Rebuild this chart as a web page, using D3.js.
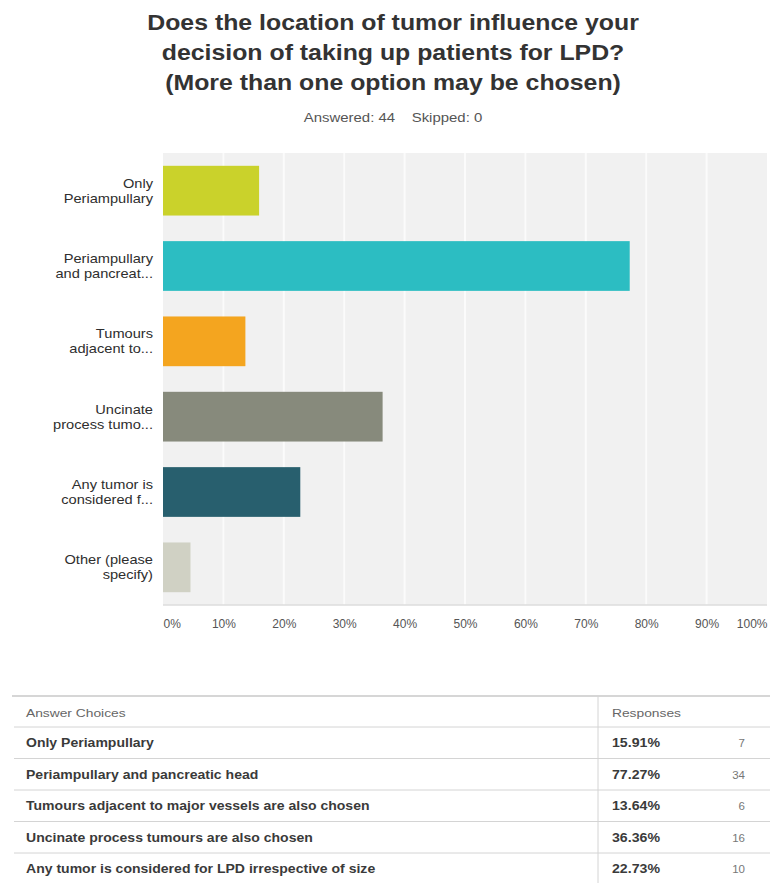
<!DOCTYPE html>
<html>
<head>
<meta charset="utf-8">
<script src="https://cdn.jsdelivr.net/npm/d3@7"></script>
<style>
  html, body { margin: 0; padding: 0; background: #fff; }
  svg { display: block; font-family: "Liberation Sans", Arial, Helvetica, sans-serif; }
</style>
</head>
<body>
<svg id="chart" width="770" height="883"></svg>
<script>
// ---- data ----
const titleLines = [
  "Does the location of tumor influence your",
  "decision of taking up patients for LPD?",
  "(More than one option may be chosen)"
];
const subtitle = "Answered: 44    Skipped: 0";
const categories = [
  ["Only", "Periampullary"],
  ["Periampullary", "and pancreat..."],
  ["Tumours", "adjacent to..."],
  ["Uncinate", "process tumo..."],
  ["Any tumor is", "considered f..."],
  ["Other (please", "specify)"]
];
const values = [15.91, 77.27, 13.64, 36.36, 22.73, 4.55];
const barColors = ["#cad22b", "#2cbdc2", "#f4a51f", "#878a7c", "#285f6e", "#d0d1c4"];
const xTicks = [0, 10, 20, 30, 40, 50, 60, 70, 80, 90, 100];
const tableHeader = ["Answer Choices", "Responses"];
const tableChoices = [
  "Only Periampullary",
  "Periampullary and pancreatic head",
  "Tumours adjacent to major vessels are also chosen",
  "Uncinate process tumours are also chosen",
  "Any tumor is considered for LPD irrespective of size"
];
const tablePercents = ["15.91%", "77.27%", "13.64%", "36.36%", "22.73%"];
const tableCounts = [7, 34, 6, 16, 10];

// ---- drawing ----
const svg = d3.select("#chart");
const cx = 393;
// horizontally stretched text, as in the reference image
const place = (sel, fx, fy, sx) =>
  sel.attr("x", 0).attr("y", 0)
     .attr("transform", (d, i) => `translate(${fx(d, i)},${fy(d, i)}) scale(${sx},1)`);

// title
place(svg.append("g").selectAll("text").data(titleLines).join("text"),
      () => cx, (d, i) => 30 + i * 30, 1.13)
  .attr("text-anchor", "middle")
  .attr("font-size", 22).attr("font-weight", "bold")
  .attr("fill", "#333")
  .text(d => d);

place(svg.append("text").datum(subtitle), () => cx, () => 122, 1.15)
  .attr("text-anchor", "middle")
  .attr("font-size", 13).attr("fill", "#555")
  .attr("xml:space", "preserve")
  .style("white-space", "pre")
  .text(d => d);

// plot
const plot = { left: 163, right: 767, top: 153, bottom: 605 };
const x = d3.scaleLinear().domain([0, 100]).range([plot.left, plot.right]);
const y = d3.scaleBand().domain(d3.range(categories.length))
  .range([plot.top, plot.bottom]).paddingInner(0.34).paddingOuter(0.17);

svg.append("rect")
  .attr("x", plot.left).attr("y", plot.top)
  .attr("width", plot.right - plot.left).attr("height", plot.bottom - plot.top)
  .attr("fill", "#f1f1f1");

svg.append("g").selectAll("line").data(xTicks.slice(1, -1)).join("line")
  .attr("x1", d => x(d)).attr("x2", d => x(d))
  .attr("y1", plot.top).attr("y2", plot.bottom)
  .attr("stroke", "#fbfbfb").attr("stroke-width", 2);

svg.append("line")
  .attr("x1", plot.left).attr("x2", plot.right)
  .attr("y1", plot.bottom).attr("y2", plot.bottom)
  .attr("stroke", "#dcdcdc").attr("stroke-width", 1.5);

svg.append("g").selectAll("rect").data(values).join("rect")
  .attr("x", x(0)).attr("y", (d, i) => y(i))
  .attr("width", d => x(d) - x(0)).attr("height", y.bandwidth())
  .attr("fill", (d, i) => barColors[i]);

// y labels
const yl = svg.append("g").selectAll("text").data(categories).join("text")
  .attr("text-anchor", "end").attr("font-size", 12.5).attr("fill", "#2e2e2e")
  .attr("transform", (d, i) => `translate(153,${y(i) + y.bandwidth() / 2}) scale(1.17,1)`);
yl.each(function(d) {
  d3.select(this).selectAll("tspan").data(d).join("tspan")
    .attr("x", 0).attr("y", (t, j) => -7.5 + j * 15 + 4.5)
    .text(t => t);
});

// x axis labels
const xAxis = d3.axisBottom(x).tickValues(xTicks).tickFormat(d => d + "%").tickSize(0).tickPadding(0);
const gx = svg.append("g").attr("transform", `translate(0, ${plot.bottom + 14})`).call(xAxis);
gx.select(".domain").remove();
gx.selectAll("text").attr("font-size", 12).attr("fill", "#555")
  .attr("font-family", "Liberation Sans, Arial, sans-serif");
gx.selectAll(".tick").filter(d => d === 0).select("text").attr("text-anchor", "start");
gx.selectAll(".tick").filter(d => d === 100).select("text").attr("text-anchor", "end");

// table
const tb = { left: 12, right: 770, top: 696, rowH: 31.5, divider: 598 };
const rowLines = d3.range(tableChoices.length + 1).map(i => tb.top + 31 + i * tb.rowH);
svg.append("line").attr("x1", tb.left).attr("x2", tb.right)
  .attr("y1", tb.top).attr("y2", tb.top).attr("stroke", "#c8c8c8").attr("stroke-width", 1.5);
svg.append("g").selectAll("line").data(rowLines.slice(0, tableChoices.length)).join("line")
  .attr("x1", tb.left + 2).attr("x2", tb.right)
  .attr("y1", d => d).attr("y2", d => d)
  .attr("stroke", "#d4d4d4").attr("stroke-width", 1);
svg.append("line").attr("x1", tb.divider).attr("x2", tb.divider)
  .attr("y1", tb.top).attr("y2", 883).attr("stroke", "#d4d4d4");

place(svg.append("g").selectAll("text").data(tableHeader).join("text"),
      (d, i) => i === 0 ? 26 : 612, () => tb.top + 21, 1.2)
  .attr("font-size", 11.5).attr("fill", "#666").text(d => d);

const rowY = (i) => rowLines[i] + tb.rowH / 2 + 4.5;
place(svg.append("g").selectAll("text").data(tableChoices).join("text"),
      () => 26, (d, i) => rowY(i), 1.17)
  .attr("font-size", 12).attr("font-weight", "bold").attr("fill", "#3a3a3a")
  .text(d => d);
place(svg.append("g").selectAll("text").data(tablePercents).join("text"),
      () => 612, (d, i) => rowY(i), 1.18)
  .attr("font-size", 12).attr("font-weight", "bold").attr("fill", "#3a3a3a")
  .text(d => d);
svg.append("g").selectAll("text").data(tableCounts).join("text")
  .attr("x", 745).attr("y", (d, i) => rowY(i))
  .attr("text-anchor", "end")
  .attr("font-size", 11.5).attr("fill", "#777")
  .text(d => d);
</script>
</body>
</html>
